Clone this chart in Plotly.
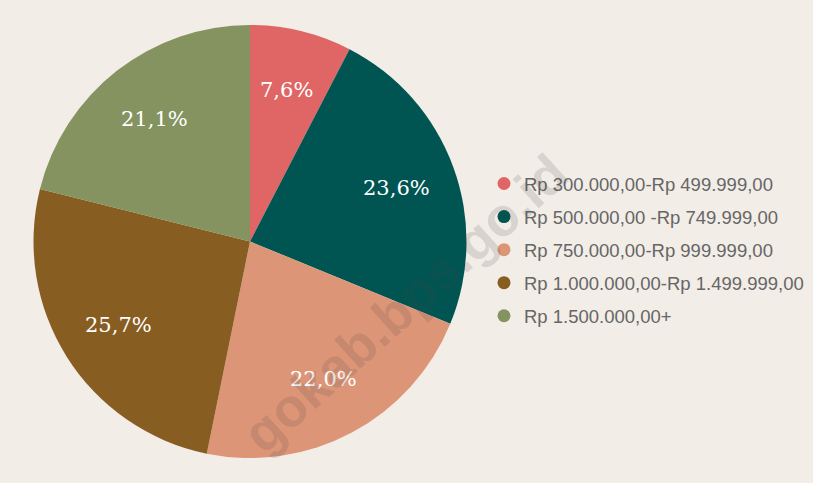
import math
import plotly.graph_objects as go

categories = [
    "Rp 300.000,00-Rp 499.999,00",
    "Rp 500.000,00 -Rp 749.999,00",
    "Rp 750.000,00-Rp 999.999,00",
    "Rp 1.000.000,00-Rp 1.499.999,00",
    "Rp 1.500.000,00+",
]
values = [7.6, 23.6, 22.0, 25.7, 21.1]
colors = ["#e06666", "#005553", "#dd9577", "#875d22", "#84935f"]
value_labels = ["7,6%", "23,6%", "22,0%", "25,7%", "21,1%"]

W, H = 813, 483
BG = "#f2ede7"
cx, cy, r = 250, 241.5, 216.5

fig = go.Figure()
fig.add_trace(go.Pie(
    labels=categories,
    values=values,
    text=value_labels,
    textinfo="none",
    marker=dict(colors=colors, line=dict(width=0)),
    sort=False,
    direction="clockwise",
    rotation=0,
    showlegend=False,
    domain=dict(x=[(cx - r) / W, (cx + r) / W], y=[1 - (cy + r) / H, 1 - (cy - r) / H]),
    hoverinfo="label+percent",
))

# slice labels at ~0.72 of the radius, at each slice's mid angle (from the data)
total = sum(values)
cum = 0.0
for v, lab in zip(values, value_labels):
    mid = (cum + v / 2) / total * 2 * math.pi
    cum += v
    px = cx + 0.72 * r * math.sin(mid)
    py = cy - 0.72 * r * math.cos(mid)
    fig.add_annotation(
        text=lab, xref="paper", yref="paper", x=px / W, y=1 - py / H,
        showarrow=False, xanchor="center", yanchor="middle",
        font=dict(family="DejaVu Serif", size=21, color="#ffffff"),
    )

# legend entries (one group each so the spacing matches)
for i, (name, col) in enumerate(zip(categories, colors)):
    fig.add_trace(go.Scatter(
        x=[None], y=[None], mode="markers", name=name,
        marker=dict(color=col, size=13, symbol="circle"),
        legendgroup=f"g{i}", showlegend=True,
    ))

fig.add_annotation(
    text="<b>gokab.bps.go.id</b>", xref="paper", yref="paper",
    x=405 / W, y=1 - 303 / H, showarrow=False, textangle=-42,
    font=dict(family="Liberation Sans", size=54, color="rgba(70,70,70,0.15)"),
)

fig.update_layout(
    width=W, height=H,
    margin=dict(l=0, r=0, t=0, b=0),
    paper_bgcolor=BG, plot_bgcolor=BG,
    xaxis=dict(visible=False), yaxis=dict(visible=False),
    legend=dict(
        x=484 / W, y=1 - 250 / H, xanchor="left", yanchor="middle",
        font=dict(family="Liberation Sans", size=18.5, color="#666666"),
        tracegroupgap=6, itemsizing="trace", bgcolor="rgba(0,0,0,0)",
    ),
)

fig.write_html(
    "out.html",
    config={"displayModeBar": False},
    post_script="document.body.style.margin='0';document.body.style.background='%s';" % BG,
)
